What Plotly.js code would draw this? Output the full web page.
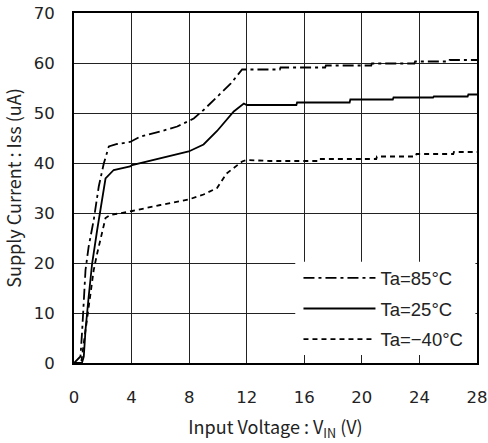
<!DOCTYPE html>
<html>
<head>
<meta charset="utf-8">
<script src="https://cdn.plot.ly/plotly-3.0.1.min.js"></script>
<style>html,body{margin:0;padding:0;background:#fff;}#chart{width:488px;height:443px;}</style>
</head>
<body>
<div id="chart"></div>
<script>
// Ta = 85°C
const v85 = [0, 0.45, 0.57, 0.8, 1.02, 1.37, 1.72, 2.07, 2.42, 3.0, 3.9, 4.62, 6.0, 7.17, 7.97, 8.32, 9.0, 9.94, 10.9, 11.68, 12.3, 14.3, 14.35, 17.45, 17.5, 20.65, 20.7, 23.65, 23.7, 26.05, 26.1, 28];
const i85 = [0, 1.3, 6.6, 18.6, 23.3, 28.6, 35.3, 39.9, 43.3, 43.8, 44.2, 45.3, 46.3, 47.3, 48.4, 48.9, 50.6, 53.3, 55.9, 58.7, 58.7, 58.7, 59.1, 59.1, 59.5, 59.5, 59.9, 59.9, 60.3, 60.3, 60.6, 60.6];
// Ta = 25°C
const v25 = [0, 0.55, 0.68, 0.8, 1.02, 1.26, 1.61, 1.96, 2.19, 2.76, 3.9, 4.04, 6.0, 7.97, 9.0, 9.94, 11.1, 11.8, 12.0, 12.3, 15.45, 15.5, 19.15, 19.2, 22.15, 22.2, 24.95, 25.0, 27.35, 27.4, 28];
const i25 = [0, 0, 1.3, 6.6, 13.3, 19.9, 26.6, 33.3, 36.9, 38.6, 39.3, 39.6, 40.9, 42.3, 43.7, 46.4, 50.3, 51.9, 51.6, 51.6, 51.6, 52.1, 52.1, 52.7, 52.7, 53.1, 53.1, 53.3, 53.3, 53.7, 53.7];
// Ta = -40°C
const vM40 = [0, 0.5, 0.68, 0.92, 1.15, 1.37, 1.61, 1.96, 2.19, 2.53, 4.04, 6.0, 7.97, 9.0, 9.94, 10.6, 11.68, 12.0, 13.6, 16.95, 17.0, 21.0, 21.05, 23.75, 23.8, 26.35, 26.4, 28];
const iM40 = [0, 0, 4.0, 9.3, 13.3, 18.6, 21.9, 26.6, 29.0, 29.6, 30.4, 31.6, 32.7, 33.7, 35.0, 37.9, 40.3, 40.6, 40.4, 40.4, 40.8, 40.8, 41.3, 41.3, 41.8, 41.8, 42.2, 42.2];

const seriesNames = ["Ta=85\u00B0C", "Ta=25\u00B0C", "Ta=\u221240\u00B0C"];
const xTicks = [0, 4, 8, 12, 16, 20, 24, 28];
const yTicks = [0, 10, 20, 30, 40, 50, 60, 70];

const traces = [
  {x: v85, y: i85, name: seriesNames[0], legendgroup: "a", mode: "lines", line: {color: "#000", width: 1.8, dash: "11px,4px,3px,4px"}},
  {x: v25, y: i25, name: seriesNames[1], legendgroup: "b", mode: "lines", line: {color: "#000", width: 1.8}},
  {x: vM40, y: iM40, name: seriesNames[2], legendgroup: "c", mode: "lines", line: {color: "#000", width: 1.8, dash: "5px,4px"}}
];

const tickFont = {family: "DejaVu Sans, sans-serif", size: 16.5, color: "#222"};
const titleFont = {family: "Noto Sans CJK JP, sans-serif", size: 18, color: "#222"};

const layout = {
  width: 488, height: 443,
  margin: {l: 73.5, r: 11, t: 13, b: 80},
  paper_bgcolor: "#fff", plot_bgcolor: "#fff",
  showlegend: true,
  legend: {
    x: 0.557, y: 0.296, xanchor: "left", yanchor: "top",
    bgcolor: "rgba(0,0,0,0)", borderwidth: 0,
    font: {family: "Liberation Sans, Arial, sans-serif", size: 18.5, color: "#222"},
    itemwidth: 72, tracegroupgap: 3.5
  },
  shapes: [
    {type: "rect", xref: "paper", yref: "paper", x0: 0.549, x1: 0.996, y0: 0.023, y1: 0.289,
     fillcolor: "#fff", line: {width: 0}, layer: "above"}
  ],
  xaxis: {
    range: [0, 28], tickvals: xTicks, ticktext: xTicks.map(String),
    showgrid: true, gridcolor: "#222", gridwidth: 1,
    showline: true, linecolor: "#000", linewidth: 2, mirror: true,
    ticks: "", zeroline: false, tickfont: tickFont, ticklabelstandoff: 18,
    title: {text: "Input Voltage : V<sub>IN</sub> (V)", font: titleFont, standoff: 16}
  },
  yaxis: {
    range: [0, 70], tickvals: yTicks, ticktext: yTicks.map(String),
    showgrid: true, gridcolor: "#222", gridwidth: 1,
    showline: true, linecolor: "#000", linewidth: 2, mirror: true,
    ticks: "", zeroline: false, tickfont: tickFont, ticklabelstandoff: 14,
    title: {text: "Supply Current : Iss (uA)", font: titleFont, standoff: 12}
  }
};

Plotly.newPlot("chart", traces, layout, {staticPlot: true, displayModeBar: false});
</script>
</body>
</html>
